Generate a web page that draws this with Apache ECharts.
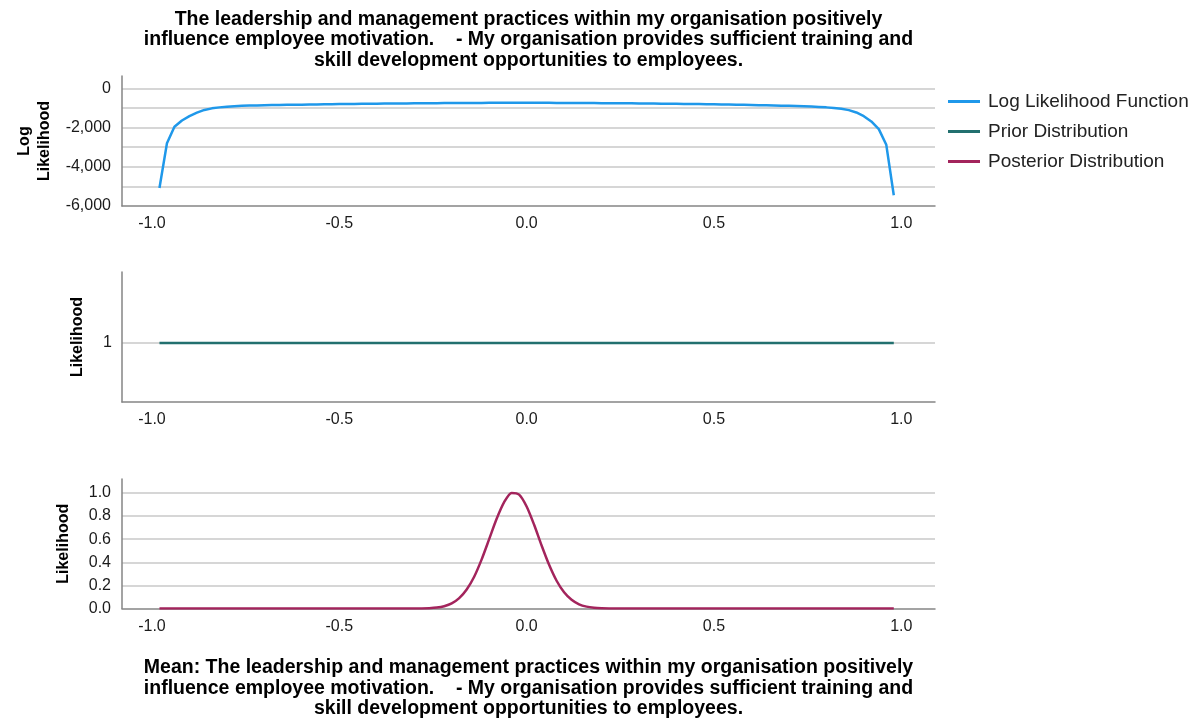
<!DOCTYPE html>
<html>
<head>
<meta charset="utf-8">
<script src="https://cdn.jsdelivr.net/npm/echarts@6/dist/echarts.min.js"></script>
<style>
html,body{margin:0;padding:0;background:#fff;}
#chart{width:1203px;height:720px;}
</style>
</head>
<body>
<div id="chart"></div>
<script>
// ---- data ----
const rho = [-0.98,-0.96,-0.94,-0.92,-0.90,-0.88,-0.86,-0.84,-0.82,-0.80,-0.78,-0.76,-0.74,-0.72,-0.70,-0.68,-0.66,-0.64,-0.62,-0.60,-0.58,-0.56,-0.54,-0.52,-0.50,-0.48,-0.46,-0.44,-0.42,-0.40,-0.38,-0.36,-0.34,-0.32,-0.30,-0.28,-0.26,-0.24,-0.22,-0.20,-0.18,-0.16,-0.14,-0.12,-0.10,-0.08,-0.06,-0.04,-0.02,0.00,0.02,0.04,0.06,0.08,0.10,0.12,0.14,0.16,0.18,0.20,0.22,0.24,0.26,0.28,0.30,0.32,0.34,0.36,0.38,0.40,0.42,0.44,0.46,0.48,0.50,0.52,0.54,0.56,0.58,0.60,0.62,0.64,0.66,0.68,0.70,0.72,0.74,0.76,0.78,0.80,0.82,0.84,0.86,0.88,0.90,0.92,0.94,0.96,0.98];

const logLikelihood = [-5080,-2800,-1960,-1640,-1420,-1240,-1100,-1020,-970,-935,-910,-892,-880,-870,-862,-855,-848,-842,-836,-830,-824,-818,-812,-806,-800,-796,-792,-788,-784,-780,-777,-774,-771,-768,-765,-762,-759,-756,-753,-750,-748,-746,-744,-742,-740,-738,-737,-736,-736,-736,-737,-738,-739,-741,-743,-745,-747,-749,-751,-754,-757,-760,-763,-766,-769,-772,-776,-780,-784,-788,-793,-798,-803,-808,-814,-820,-826,-833,-840,-848,-856,-864,-873,-882,-892,-903,-915,-930,-948,-970,-1000,-1045,-1110,-1230,-1420,-1690,-2080,-2880,-5450];

const priorDistribution = [1,1,1,1,1,1,1,1,1,1,1,1,1,1,1,1,1,1,1,1,1,1,1,1,1,1,1,1,1,1,1,1,1,1,1,1,1,1,1,1,1,1,1,1,1,1,1,1,1,1,1,1,1,1,1,1,1,1,1,1,1,1,1,1,1,1,1,1,1,1,1,1,1,1,1,1,1,1,1,1,1,1,1,1,1,1,1,1,1,1,1,1,1,1,1,1,1,1,1];

const posteriorDistribution = [0,0,0,0,0,0,0,0,0,0,0,0,0,0,0,0,0,0,0,0,0,0,0,0,0,0,0,0,0,0,0,0,0,
  0.0001,0.0003,0.001,0.003,0.008,0.02,0.044,0.09,0.165,0.275,0.425,0.60,0.776,0.92,1.0,0.985,0.882,0.724,0.545,0.378,0.24,0.14,0.075,0.036,0.016,0.0065,0.0024,0.0008,0.0002,
  0,0,0,0,0,0,0,0,0,0,0,0,0,0,0,0,0,0,0,0,0,0,0,0,0,0,0,0,0,0,0,0,0,0,0,0,0];

const xTickLabels = [-1.0,-0.5,0.0,0.5,1.0];
const logTicks = [-6000,-5000,-4000,-3000,-2000,-1000,0];
const logTickLabels = [-6000,-4000,-2000,0];
const priorTicks = [1];
const postTicks = [0,0.2,0.4,0.6,0.8,1.0];

const titleText = 'The leadership and management practices within my organisation positively\ninfluence employee motivation.    - My organisation provides sufficient training and\nskill development opportunities to employees.';
const xName = 'Mean: The leadership and management practices within my organisation positively\ninfluence employee motivation.    - My organisation provides sufficient training and\nskill development opportunities to employees.';

// ---- chart ----
const FONT = '"Liberation Sans", Arial, sans-serif';
function gridLine(minLine) {
  return {show:true, showMinLine:minLine, showMaxLine:true, lineStyle:{color:'#c8c8c8', width:1.5}};
}
const axisLine = {show:true, onZero:false, lineStyle:{color:'#858585', width:1.5}};
const tickLbl = {color:'#1a1a1a', fontSize:16, fontFamily:FONT};

function xAxis(idx, extra) {
  return Object.assign({
    type:'value', gridIndex:idx, min:-1.08, max:1.09,
    axisLine: axisLine,
    axisTick:{show:false, customValues:xTickLabels},
    splitLine:{show:false},
    axisLabel:Object.assign({customValues:xTickLabels, margin:10, formatter:v=>v.toFixed(1)}, tickLbl)
  }, extra||{});
}

const nameStyle = {color:'#000', fontSize:16, fontWeight:'bold', fontFamily:FONT, lineHeight:20};
const bigTitleStyle = {color:'#000', fontSize:19.5, fontWeight:'bold', fontFamily:FONT, lineHeight:20.5};

const chart = echarts.init(document.getElementById('chart'), null, {renderer:'canvas'});
chart.setOption({
  backgroundColor:'#fff',
  animation:false,
  title:{
    text:titleText, left:523.5, top:4, textAlign:'center',
    textStyle:bigTitleStyle
  },
  legend:{
    orient:'vertical', left:943, top:87, icon:'rect', itemWidth:32, itemHeight:3, itemGap:11,
    textStyle:{color:'#222', fontSize:19, fontFamily:FONT, padding:[0,0,0,3]},
    data:['Log Likelihood Function','Prior Distribution','Posterior Distribution']
  },
  grid:[
    {left:122, width:813, top:76, height:130},
    {left:122, width:813, top:272, height:130},
    {left:122, width:813, top:479, height:130}
  ],
  xAxis:[
    xAxis(0),
    xAxis(1),
    xAxis(2, {name:xName, nameLocation:'middle', nameGap:49, nameTextStyle:bigTitleStyle})
  ],
  yAxis:[
    {type:'value', gridIndex:0, min:-6000, max:630,
     name:'Log\nLikelihood', nameLocation:'middle', nameGap:64, nameRotate:90, nameTextStyle:nameStyle,
     axisLine:axisLine, axisTick:{show:false, customValues:logTicks}, splitLine:gridLine(false),
     axisLabel:Object.assign({customValues:logTickLabels, margin:11, formatter:v=>v.toLocaleString('en-US')}, tickLbl)},
    {type:'value', gridIndex:1, min:0, max:2.2,
     name:'Likelihood', nameLocation:'middle', nameGap:34, nameRotate:90, nameTextStyle:nameStyle,
     axisLine:axisLine, axisTick:{show:false, customValues:priorTicks}, splitLine:gridLine(true),
     axisLabel:Object.assign({customValues:priorTicks, margin:10, formatter:v=>String(v)}, tickLbl)},
    {type:'value', gridIndex:2, min:0, max:1.12,
     name:'Likelihood', nameLocation:'middle', nameGap:48, nameRotate:90, nameTextStyle:nameStyle,
     axisLine:axisLine, axisTick:{show:false, customValues:postTicks}, splitLine:gridLine(false),
     axisLabel:Object.assign({customValues:postTicks, margin:11, formatter:v=>v.toFixed(1)}, tickLbl)}
  ],
  series:[
    {name:'Log Likelihood Function', type:'line', xAxisIndex:0, yAxisIndex:0, symbol:'none', smooth:false,
     lineStyle:{color:'#1f98ea', width:2.5}, itemStyle:{color:'#1f98ea'},
     data:rho.map((r,i)=>[r, logLikelihood[i]])},
    {name:'Prior Distribution', type:'line', xAxisIndex:1, yAxisIndex:1, symbol:'none',
     lineStyle:{color:'#22706f', width:2.5}, itemStyle:{color:'#22706f'},
     data:rho.map((r,i)=>[r, priorDistribution[i]])},
    {name:'Posterior Distribution', type:'line', xAxisIndex:2, yAxisIndex:2, symbol:'none', smooth:0.25,
     lineStyle:{color:'#a3245c', width:2.5}, itemStyle:{color:'#a3245c'},
     data:rho.map((r,i)=>[r, posteriorDistribution[i]])}
  ]
});
</script>
</body>
</html>
